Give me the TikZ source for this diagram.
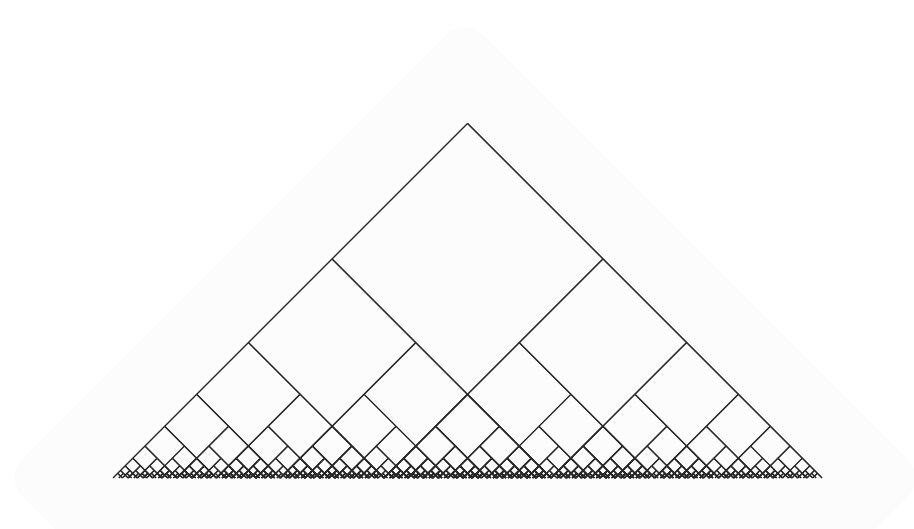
\documentclass[tikz,border=0pt]{standalone}
\usepackage{tikz}
\definecolor{bgshade}{RGB}{252,252,252}
\definecolor{inkline}{RGB}{40,40,40}
\tikzset{treeline/.style={draw=inkline,line width=1.4pt}}
\def\phiinv{0.6180339887}
\def\threshold{3.6}
\newcommand\gbranch[3]{%
  \begingroup
  \pgfmathsetmacro\bx{#1}\pgfmathsetmacro\bh{#2}\pgfmathsetmacro\bd{#3}%
  \draw[treeline] (\bx,\bh) -- ++(\bd*\bh,-\bh);%
  \pgfmathsetmacro\hk{\bh*\phiinv}%
  \gloop
  \endgroup}
\def\gloop{%
  \ifdim\hk pt>\threshold pt
    \pgfmathsetmacro\nx{\bx+\bd*(\bh-\hk)}%
    \pgfmathsetmacro\nd{-\bd}%
    \edef\gnext{\noexpand\gbranch{\nx}{\hk}{\nd}}\gnext
    \pgfmathsetmacro\hk{\hk*\phiinv}%
    \expandafter\gloop
  \fi}
\begin{document}
\begin{tikzpicture}[x=1pt,y=1pt]
\useasboundingbox (0,-51) rectangle (914,478);
\fill[white] (0,-51) rectangle (914,478);
\fill[bgshade,rounded corners=25pt] (465,461) -- (4,0) -- (465,-461) -- (926,0) -- cycle;
\coordinate (apex) at (467.5,354.5);
\gbranch{467.5}{354.5}{-1}
\gbranch{467.5}{354.5}{1}
\end{tikzpicture}
\end{document}
